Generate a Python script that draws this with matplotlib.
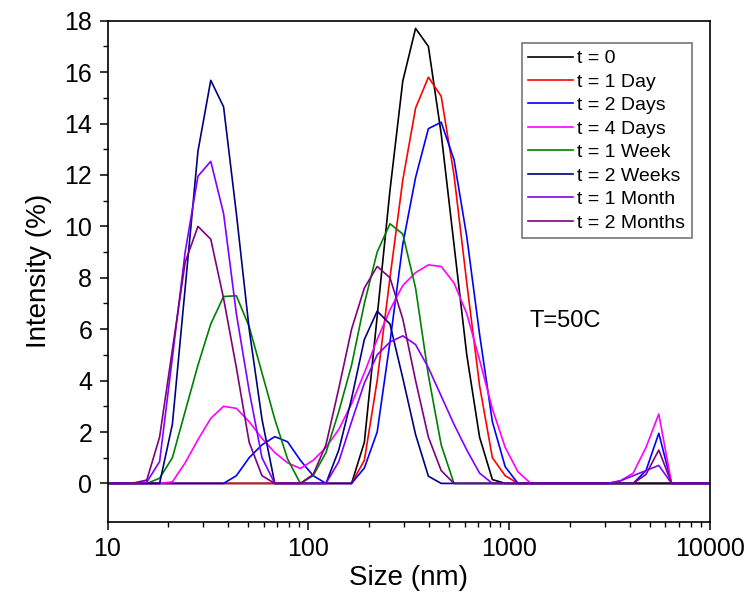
import matplotlib
matplotlib.use("Agg")
import matplotlib.pyplot as plt
from matplotlib.ticker import FixedLocator, NullFormatter

plt.rcParams['font.family'] = ['Liberation Sans', 'DejaVu Sans']

# Size bins (nm)
sizes = [8.721, 10.1, 11.7, 13.54, 15.69, 18.17, 21.04, 24.36, 28.21, 32.67,
         37.84, 43.82, 50.75, 58.77, 68.06, 78.82, 91.28, 105.7, 122.4, 141.8,
         164.2, 190.1, 220.2, 255.0, 295.3, 342.0, 396.1, 458.7, 531.2, 615.1,
         712.4, 825.0, 955.4, 1106, 1281, 1484, 1718, 1990, 2305, 2669,
         3091, 3580, 4145, 4801, 5560, 6439, 7456, 8635, 10000]

labels = ["t = 0", "t = 1 Day", "t = 2 Days", "t = 4 Days", "t = 1 Week",
          "t = 2 Weeks", "t = 1 Month", "t = 2 Months"]

t0 = [0, 0, 0, 0, 0, 0, 0, 0, 0, 0,
      0, 0, 0, 0, 0, 0, 0, 0, 0, 0,
      0, 1.6, 6.5, 11.4, 15.65, 17.7, 17.0, 13.6, 9.3, 5.0,
      1.8, 0.15, 0, 0, 0, 0, 0, 0, 0, 0,
      0, 0, 0, 0, 0, 0, 0, 0, 0]
t1day = [0, 0, 0, 0, 0, 0, 0, 0, 0, 0,
         0, 0, 0, 0, 0, 0, 0, 0, 0, 0,
         0, 0.9, 4.0, 8.0, 11.8, 14.6, 15.8, 15.06, 12.0, 7.8,
         3.8, 1.0, 0.3, 0, 0, 0, 0, 0, 0, 0,
         0, 0, 0, 0, 0, 0, 0, 0, 0]
t2days = [0, 0, 0, 0, 0, 0, 0, 0, 0, 0,
          0, 0.3, 1.0, 1.5, 1.82, 1.62, 0.9, 0.3, 0, 0,
          0, 0.6, 2.0, 5.5, 9.3, 11.9, 13.8, 14.05, 12.6, 9.6,
          5.8, 2.4, 0.65, 0, 0, 0, 0, 0, 0, 0,
          0, 0, 0, 0.5, 1.95, 0, 0, 0, 0]
t4days = [0, 0, 0, 0, 0, 0, 0.06, 0.8, 1.7, 2.53,
          3.0, 2.92, 2.4, 1.75, 1.2, 0.8, 0.58, 0.9, 1.4, 2.1,
          3.1, 4.3, 5.6, 6.75, 7.7, 8.2, 8.5, 8.44, 7.8, 6.6,
          4.8, 2.9, 1.4, 0.45, 0, 0, 0, 0, 0, 0,
          0, 0.1, 0.4, 1.4, 2.7, 0, 0, 0, 0]
t1week = [0, 0, 0, 0, 0, 0.2, 1.0, 2.8, 4.6, 6.2,
          7.27, 7.3, 6.1, 4.3, 2.5, 0.95, 0, 0.3, 1.2, 2.8,
          4.6, 7.0, 9.0, 10.1, 9.7, 7.6, 4.2, 1.5, 0, 0,
          0, 0, 0, 0, 0, 0, 0, 0, 0, 0,
          0, 0, 0, 0, 0, 0, 0, 0, 0]
t2weeks = [0, 0, 0, 0, 0, 0, 2.3, 7.6, 12.92, 15.68,
           14.65, 10.5, 6.0, 2.5, 0, 0, 0, 0, 0, 1.3,
           3.3, 5.6, 6.7, 6.2, 4.1, 1.9, 0.28, 0, 0, 0,
           0, 0, 0, 0, 0, 0, 0, 0, 0, 0,
           0, 0, 0, 0, 0, 0, 0, 0, 0]
t1month = [0, 0, 0, 0, 0.05, 0.85, 4.9, 9.0, 11.95, 12.53,
           10.5, 6.6, 3.6, 1.0, 0, 0, 0, 0, 0, 0.85,
           2.4, 3.9, 5.0, 5.5, 5.74, 5.4, 4.5, 3.4, 2.3, 1.3,
           0.4, 0, 0, 0, 0, 0, 0, 0, 0, 0,
           0, 0.1, 0.3, 0.5, 0.7, 0, 0, 0, 0]
t2months = [0, 0, 0, 0.02, 0.13, 1.8, 5.2, 8.6, 10.0, 9.5,
            7.2, 4.5, 1.6, 0.3, 0, 0, 0, 0.35, 1.5, 3.7,
            6.0, 7.6, 8.44, 8.0, 6.4, 4.0, 1.8, 0.5, 0, 0,
            0, 0, 0, 0, 0, 0, 0, 0, 0, 0,
            0, 0, 0, 0.35, 1.3, 0, 0, 0, 0]

series = [t0, t1day, t2days, t4days, t1week, t2weeks, t1month, t2months]
colors = ['#000000', '#FF0000', '#0000FF', '#FF00FF', '#008000',
          '#000080', '#8000FF', '#800080']

fig = plt.figure(figsize=(7.45, 5.96), dpi=100)
ax = fig.add_axes([0.1443, 0.1242, 0.8087, 0.8411])

for ys, c, lab in zip(series, colors, labels):
    ax.plot(sizes, ys, color=c, lw=1.2, label=lab)

ax.set_xscale('log')
ax.set_xlim(10, 10000)
ax.set_ylim(-1.5, 18)
ax.yaxis.set_major_locator(FixedLocator([0, 2, 4, 6, 8, 10, 12, 14, 16, 18]))
ax.yaxis.set_minor_locator(FixedLocator([1, 3, 5, 7, 9, 11, 13, 15, 17]))
ax.set_xticks([10, 100, 1000, 10000])
ax.set_xticklabels(['10', '100', '1000', '10000'])
ax.xaxis.set_minor_formatter(NullFormatter())

for s in ax.spines.values():
    s.set_linewidth(1.2)
ax.tick_params(which='major', direction='out', length=6, width=1.1,
               labelsize=18, pad=5, top=False, right=False)
ax.tick_params(which='minor', direction='out', length=3.5, width=1.0,
               top=False, right=False)

ax.set_xlabel('Size (nm)', fontsize=20, labelpad=3)
ax.set_ylabel('Intensity (%)', fontsize=20, labelpad=9)

leg = ax.legend(loc='upper right', bbox_to_anchor=(0.970, 0.9555),
                borderaxespad=0, fontsize=14, frameon=True, fancybox=False,
                handlelength=2.3, handletextpad=0.2, labelspacing=0.3,
                borderpad=0.35)
leg.get_frame().set_edgecolor('#555555')
leg.get_frame().set_linewidth(1.2)

ax.text(0.70, 0.40, 'T=50C', transform=ax.transAxes, fontsize=17,
        ha='left', va='center')

fig.savefig('out.png', dpi=100)
